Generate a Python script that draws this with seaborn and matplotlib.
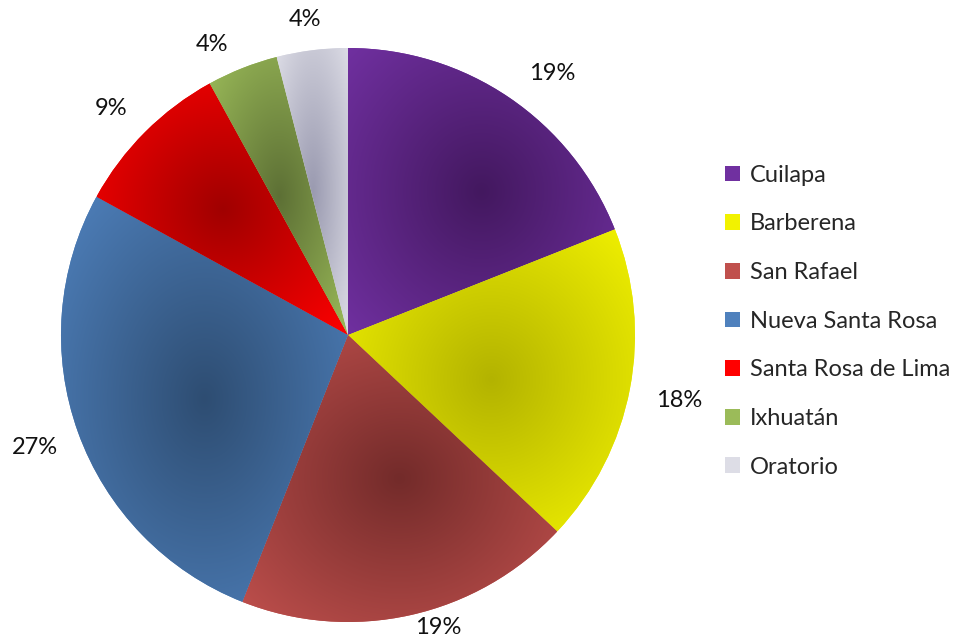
import numpy as np
import matplotlib
matplotlib.use("Agg")
import matplotlib.pyplot as plt
from matplotlib.patches import Patch
from matplotlib.colors import to_rgb
import seaborn as sns

municipios = ["Cuilapa", "Barberena", "San Rafael", "Nueva Santa Rosa",
              "Santa Rosa de Lima", "Ixhuatán", "Oratorio"]
porcentajes = [19, 18, 19, 27, 9, 4, 4]

# outer (edge) colour and darker centre colour of each slice
colores_borde = ["#7030A0", "#F2F200", "#C0504D", "#4F81BD", "#FF0000", "#9BBB59", "#DDDDE6"]
colores_centro = ["#43185F", "#B3B300", "#732B2A", "#2E4D72", "#A00000", "#5D7035", "#9A9AB0"]

# small hand nudges (pixels, x right / y down) for the percentage labels
ajuste_px = [(19, 10), (5, 3), (20, -2), (0, 0), (-6, 4), (-17, 10), (-3, 1)]

sns.set_style("white")
plt.rcParams["font.family"] = ["Lato", "DejaVu Sans"]

W, H = 961, 641
fig = plt.figure(figsize=(W / 100, H / 100), dpi=100)
cx, cy, R = 348, 335, 287
ax = fig.add_axes([(cx - R) / W, (H - cy - R) / H, 2 * R / W, 2 * R / H])

palette = sns.color_palette(colores_borde)
wedges, _, autotexts = ax.pie(
    porcentajes, colors=palette, startangle=90, counterclock=False, radius=1,
    autopct="%d%%", pctdistance=1.17, textprops=dict(fontsize=17, color="#111111"),
    wedgeprops=dict(linewidth=0),
)
ax.set_xlim(-1, 1)
ax.set_ylim(-1, 1)
ax.set_aspect("equal")
ax.axis("off")


def wedge_bbox(t1, t2):
    pts = [(0.0, 0.0), (np.cos(np.radians(t1)), np.sin(np.radians(t1))),
           (np.cos(np.radians(t2)), np.sin(np.radians(t2)))]
    for a in range(-360, 721, 90):
        if t1 <= a <= t2:
            pts.append((np.cos(np.radians(a)), np.sin(np.radians(a))))
    pts = np.array(pts)
    return pts[:, 0].min(), pts[:, 0].max(), pts[:, 1].min(), pts[:, 1].max()


# radial shading inside every slice, centred on the slice's bounding box
for w, c_out, c_in in zip(wedges, colores_borde, colores_centro):
    x0, x1, y0, y1 = wedge_bbox(w.theta1, w.theta2)
    n = 300
    xs = np.linspace(x0, x1, n)
    ys = np.linspace(y0, y1, n)
    X, Y = np.meshgrid(xs, ys)
    mx, my = (x0 + x1) / 2, (y0 + y1) / 2
    hw, hh = (x1 - x0) / 2, (y1 - y0) / 2
    d = np.sqrt(((X - mx) / hw) ** 2 + ((Y - my) / hh) ** 2) / np.sqrt(2)
    d = np.clip(d, 0, 1)[..., None]
    img = np.array(to_rgb(c_in)) * (1 - d) + np.array(to_rgb(c_out)) * d
    im = ax.imshow(img, extent=(x0, x1, y0, y1), origin="lower",
                   interpolation="bilinear", zorder=1.5)
    im.set_clip_path(w)

ax.set_xlim(-1, 1)
ax.set_ylim(-1, 1)

# percentage labels sit a fixed gap outside the rim, kept inside the figure
fig.canvas.draw()
renderer = fig.canvas.get_renderer()
gap = 20.0
y_bottom_limit = -(H - cy - 11) / R
for w, t, (nx, ny) in zip(wedges, autotexts, ajuste_px):
    t.set_clip_on(False)
    ang = np.radians((w.theta1 + w.theta2) / 2)
    bb = t.get_window_extent(renderer)
    ext = abs(np.cos(ang)) * bb.width / 2 + abs(np.sin(ang)) * bb.height / 2
    r = 1 + (gap + ext) / R
    x, y = r * np.cos(ang), r * np.sin(ang)
    y = max(y, y_bottom_limit)
    t.set_position((x + nx / R, y - ny / R))

handles = [Patch(facecolor=c, edgecolor="none") for c in colores_borde]
leg = fig.legend(handles, municipios, loc="upper left",
                 bbox_to_anchor=(713 / W, 1 - 153 / H), frameon=False,
                 fontsize=17, handlelength=0.65, handleheight=0.65,
                 handletextpad=0.4, labelspacing=1.17, borderpad=0)

fig.savefig("out.png", dpi=100)
